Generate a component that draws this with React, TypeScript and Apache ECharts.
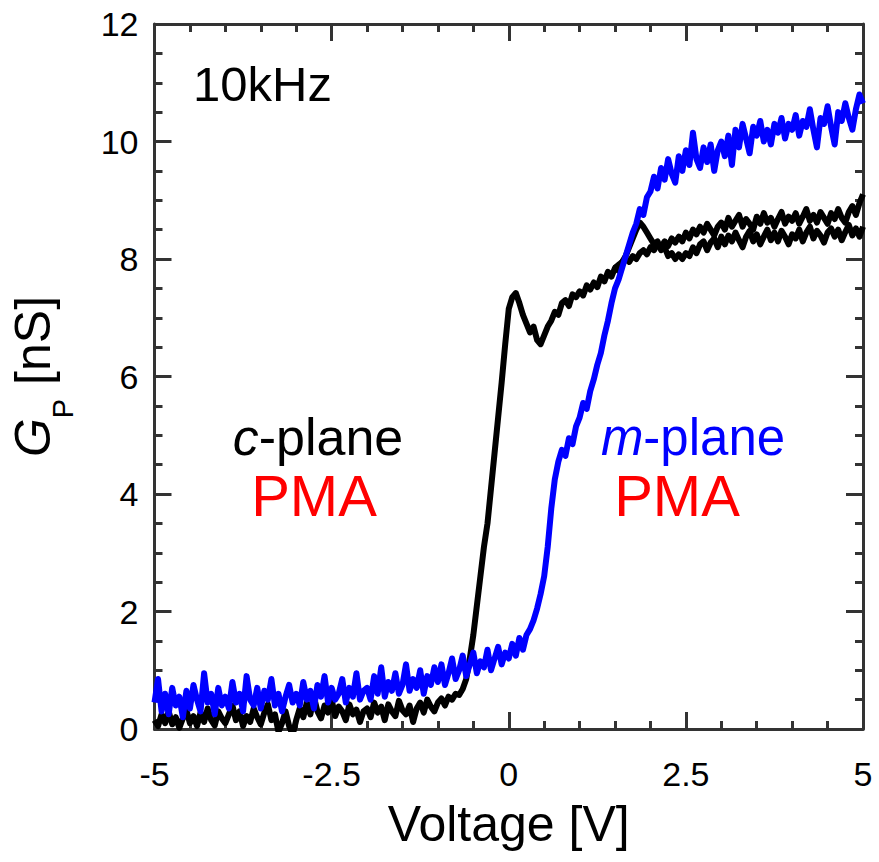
import React, { useEffect, useRef } from "react";
import * as echarts from "echarts";

// Voltage grid: sweep from -5 V to 5 V in 0.05 V steps (index -> voltage)
const V_START = -5;
const V_STEP = 0.05;

// c-plane (black), rising sweep, indices 0..200
const cPlaneUp = [
  0.15, 0.05, 0.25, 0.1, 0.3, 0.08, 0.2, 0.02, 0.18, 0.32, 0.1, 0.22, 0.05, 0.28, 0.12, 0.35, 0.15, 0.06, 0.3, 0.18,
  0.1, 0.25, 0.4, 0.15, 0.3, 0.05, 0.22, 0.12, 0.35, 0.2, 0.08, 0.28, 0.42, 0.15, 0.25, -0.05, 0.1, 0.3, 0.05, -0.1,
  0.15, 0.35, 0.2, 0.45, 0.25, 0.55, 0.3, 0.18, 0.4, 0.28, 0.5, 0.22, 0.38, 0.3, 0.15, 0.42, 0.25, 0.33, 0.12, 0.3,
  0.35, 0.2, 0.45, 0.28, 0.38, 0.15, 0.42, 0.3, 0.22, 0.48, 0.32, 0.25, 0.4, 0.12, 0.35, 0.45, 0.28, 0.5, 0.38, 0.3,
  0.45, 0.52, 0.4, 0.55, 0.5, 0.6, 0.58, 0.68, 0.85, 1.2,
  1.6, 2.1, 2.6, 3.1, 3.5, 4.1, 4.7, 5.3, 5.9, 6.55,
  7.15, 7.35, 7.42, 7.25, 7.05, 6.9, 6.75, 6.85, 6.62, 6.55, 6.7, 6.85, 6.95, 7.1, 7.05, 7.25, 7.3, 7.2, 7.4, 7.35,
  7.45, 7.38, 7.55, 7.48, 7.6, 7.52, 7.7, 7.62, 7.78, 7.7, 7.85, 7.8, 7.95, 8.05, 8.2, 8.35, 8.5, 8.62, 8.55, 8.45,
  8.35, 8.25, 8.3, 8.15, 8.2, 8.05, 8.1, 8.0, 8.08, 8.0,
  8.1, 8.05, 8.2, 8.1, 8.25, 8.3, 8.15, 8.28, 8.35, 8.2, 8.38, 8.25, 8.4, 8.3, 8.45, 8.32, 8.2, 8.38, 8.48, 8.3,
  8.42, 8.25, 8.38, 8.5, 8.32, 8.45, 8.3, 8.48, 8.38, 8.25, 8.42, 8.35, 8.5, 8.3, 8.45, 8.55, 8.35, 8.48, 8.4, 8.28,
  8.45, 8.52, 8.38, 8.5, 8.32, 8.46, 8.58, 8.4, 8.52, 8.38, 8.55,
];

// c-plane (black), returning sweep branch that separates above 1.5 V, indices 130..200
const cPlaneDownStart = 130;
const cPlaneDown = [
  7.85, 7.9, 7.95, 8.0, 7.95, 8.05, 8.0, 8.1, 8.15, 8.08,
  8.2, 8.15, 8.25, 8.2, 8.3, 8.22, 8.35, 8.28, 8.38, 8.3,
  8.45, 8.35, 8.5, 8.42, 8.55, 8.45, 8.6, 8.5, 8.4, 8.55,
  8.62, 8.5, 8.7, 8.55, 8.65, 8.75, 8.55, 8.68, 8.6, 8.5,
  8.72, 8.6, 8.78, 8.62, 8.7, 8.55, 8.68, 8.8, 8.6, 8.72,
  8.65, 8.78, 8.6, 8.72, 8.85, 8.65, 8.75, 8.62, 8.8, 8.7,
  8.6, 8.78, 8.68, 8.85, 8.7, 8.62, 8.8, 8.9, 8.75, 8.95,
  9.1,
];

// m-plane (blue), indices 0..200
const mPlane = [
  0.45, 0.85, 0.3, 0.6, 0.25, 0.7, 0.4, 0.55, 0.2, 0.65, 0.35, 0.75, 0.5, 0.3, 0.95, 0.45, 0.6, 0.25, 0.7, 0.4,
  0.55, 0.35, 0.8, 0.45, 0.6, 0.3, 0.9, 0.5, 0.4, 0.7, 0.35, 0.65, 0.5, 0.85, 0.4, 0.6, 0.3, 0.55, 0.75, 0.45,
  0.6, 0.4, 0.8, 0.5, 0.65, 0.35, 0.75, 0.55, 0.9, 0.45, 0.7, 0.5, 0.6, 0.85, 0.45, 0.7, 0.55, 0.95, 0.5, 0.65,
  0.7, 0.5, 0.9, 0.6, 1.05, 0.55, 0.8, 0.65, 0.95, 0.6, 0.75, 1.1, 0.65, 0.85, 0.7, 1.0, 0.6, 0.9, 0.75, 1.05,
  0.8, 1.1, 0.75, 0.95, 1.2, 0.85, 1.0, 1.25, 0.9, 1.1, 1.3, 0.95, 1.15, 1.05, 1.35, 1.0, 1.2, 1.4, 1.1, 1.3,
  1.2, 1.45, 1.25, 1.55, 1.35, 1.6, 1.7, 1.85, 2.05, 2.3, 2.6, 3.1, 3.75, 4.25, 4.55, 4.75, 4.65, 4.95, 4.85, 5.15,
  5.3, 5.55, 5.45, 5.75, 5.95, 6.2, 6.4, 6.7, 6.95, 7.25, 7.5, 7.65, 7.85, 8.05, 8.25, 8.45, 8.6, 8.85, 8.75, 9.05,
  9.15, 9.4, 9.2, 9.55, 9.35, 9.7, 9.45, 9.3, 9.75, 9.5, 9.85, 9.6, 10.15, 9.7, 9.55, 9.9, 9.65, 9.95, 9.5, 9.85,
  10.0, 9.75, 10.1, 9.6, 10.2, 9.9, 10.3, 10.05, 9.8, 10.25, 10.1, 10.35, 10.0, 10.2, 9.95, 10.3, 10.15, 10.4, 10.05, 10.3,
  10.2, 10.45, 10.1, 10.35, 10.25, 10.55, 10.2, 9.9, 10.4, 10.3, 10.6, 10.25, 9.95, 10.5, 10.35, 10.65, 10.4, 10.2, 10.55, 10.8,
  10.65,
];

// Axis settings
const X_MIN = -5;
const X_MAX = 5;
const X_INTERVAL = 2.5;
const Y_MIN = 0;
const Y_MAX = 12;
const Y_INTERVAL = 2;

const FONT = '"Liberation Sans", Arial, Helvetica, sans-serif';
const AXIS_COLOR = "#333333";

const toPairs = (ys: number[], start: number) =>
  ys.map((y, i) => [+(V_START + (start + i) * V_STEP).toFixed(2), y]);

export default function App() {
  const ref = useRef<HTMLDivElement>(null);

  useEffect(() => {
    if (!ref.current) return;
    const chart = echarts.init(ref.current, undefined, { renderer: "svg" });

    const tick = { inside: true, length: 17, lineStyle: { width: 3, color: AXIS_COLOR } };
    const minor = (n: number) => ({ show: true, splitNumber: n, length: 8, lineStyle: { width: 3, color: AXIS_COLOR } });
    const axisLine = { show: true, onZero: false, lineStyle: { width: 3, color: AXIS_COLOR } };
    const lineW = 6;

    chart.setOption({
      animation: false,
      backgroundColor: "#ffffff",
      grid: { left: 154, right: 16, top: 24, bottom: 133, containLabel: false },
      xAxis: [
        {
          type: "value",
          position: "bottom",
          min: X_MIN,
          max: X_MAX,
          interval: X_INTERVAL,
          axisLine,
          axisTick: tick,
          minorTick: minor(5),
          splitLine: { show: false },
          axisLabel: { margin: 28, fontSize: 34, color: "#000", fontFamily: FONT },
          name: "Voltage [V]",
          nameLocation: "middle",
          nameGap: 70,
          nameTextStyle: { fontSize: 50, color: "#000", fontFamily: FONT },
        },
        {
          type: "value",
          position: "top",
          min: X_MIN,
          max: X_MAX,
          interval: X_INTERVAL,
          axisLine,
          axisTick: tick,
          minorTick: minor(5),
          splitLine: { show: false },
          axisLabel: { show: false },
        },
      ],
      yAxis: [
        {
          type: "value",
          position: "left",
          min: Y_MIN,
          max: Y_MAX,
          interval: Y_INTERVAL,
          axisLine,
          axisTick: tick,
          minorTick: minor(4),
          splitLine: { show: false },
          axisLabel: { margin: 16, fontSize: 34, color: "#000", fontFamily: FONT },
          name: "{g|G}{p|P}{n| [nS]}",
          nameLocation: "middle",
          nameGap: 77,
          nameTextStyle: {
            color: "#000",
            fontFamily: FONT,
            rich: {
              g: { fontSize: 50, fontStyle: "italic", fontFamily: FONT, color: "#000" },
              p: { fontSize: 29, fontFamily: FONT, color: "#000", padding: [60, 0, 0, 0] },
              n: { fontSize: 50, fontFamily: FONT, color: "#000" },
            },
          },
        },
        {
          type: "value",
          position: "right",
          min: Y_MIN,
          max: Y_MAX,
          interval: Y_INTERVAL,
          axisLine,
          axisTick: tick,
          minorTick: minor(4),
          splitLine: { show: false },
          axisLabel: { show: false },
        },
      ],
      series: [
        {
          name: "c-plane up",
          type: "line",
          xAxisIndex: 0,
          yAxisIndex: 0,
          data: toPairs(cPlaneUp, 0),
          showSymbol: false,
          symbol: "none",
          clip: true,
          lineStyle: { color: "#000000", width: lineW, join: "round" },
          z: 2,
        },
        {
          name: "c-plane down",
          type: "line",
          xAxisIndex: 0,
          yAxisIndex: 0,
          data: toPairs(cPlaneDown, cPlaneDownStart),
          showSymbol: false,
          symbol: "none",
          clip: true,
          lineStyle: { color: "#000000", width: lineW, join: "round" },
          z: 2,
        },
        {
          name: "m-plane",
          type: "line",
          xAxisIndex: 0,
          yAxisIndex: 0,
          data: toPairs(mPlane, 0),
          showSymbol: false,
          symbol: "none",
          clip: true,
          lineStyle: { color: "#0000ff", width: lineW, join: "round" },
          z: 3,
        },
      ],
      graphic: [
        {
          type: "text",
          x: 193,
          y: 84,
          style: { text: "10kHz", fontSize: 49, fontFamily: FONT, fill: "#000", align: "left", verticalAlign: "middle" },
        },
        {
          type: "text",
          x: 318,
          y: 437,
          style: {
            text: "{i|c}{n|-plane}",
            align: "center",
            verticalAlign: "middle",
            rich: {
              i: { fontSize: 52, fontStyle: "italic", fontFamily: FONT, fill: "#000", color: "#000" },
              n: { fontSize: 52, fontFamily: FONT, fill: "#000", color: "#000" },
            },
          },
        },
        {
          type: "text",
          x: 314,
          y: 495,
          style: { text: "PMA", fontSize: 58, fontFamily: FONT, fill: "#ff0000", align: "center", verticalAlign: "middle" },
        },
        {
          type: "text",
          x: 693,
          y: 437,
          style: {
            text: "{i|m}{n|-plane}",
            align: "center",
            verticalAlign: "middle",
            rich: {
              i: { fontSize: 51, fontStyle: "italic", fontFamily: FONT, fill: "#0000ff", color: "#0000ff" },
              n: { fontSize: 51, fontFamily: FONT, fill: "#0000ff", color: "#0000ff" },
            },
          },
        },
        {
          type: "text",
          x: 677,
          y: 495,
          style: { text: "PMA", fontSize: 58, fontFamily: FONT, fill: "#ff0000", align: "center", verticalAlign: "middle" },
        },
      ],
    });

    return () => chart.dispose();
  }, []);

  return (
    <div
      ref={ref}
      style={{ position: "fixed", left: 0, top: 0, width: 879, height: 862, background: "#fff" }}
    />
  );
}
